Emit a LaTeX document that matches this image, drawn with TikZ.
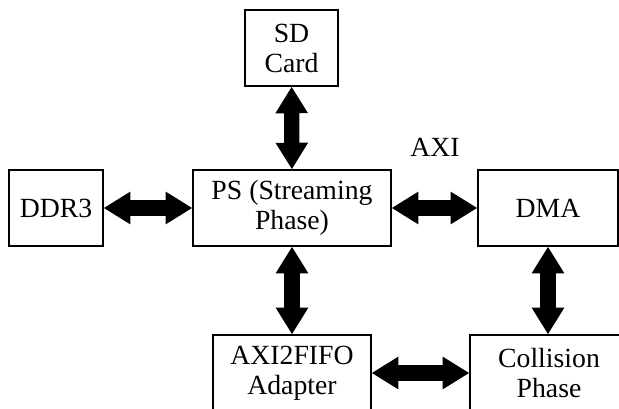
\documentclass[tikz,border=0pt]{standalone}
\usepackage{fontspec}
\setmainfont{Liberation Serif}
\usetikzlibrary{arrows.meta}

\tikzset{
  blk/.style={draw, line width=0.9pt, inner sep=0pt, align=center,
    minimum height=57pt, font=\fontsize{20.8}{22.5}\selectfont},
  biarrow/.style={line width=11.5pt,
    {Triangle[length=20pt,width=23pt]}-{Triangle[length=20pt,width=23pt]}}
}

\begin{document}
\begin{tikzpicture}[x=0.75pt,y=-0.75pt]
   \useasboundingbox (0,0) rectangle (619,409);
   \clip (0,0) rectangle (619,409);
   % blocks
   \node[blk, minimum width=69.75pt] (sd)   at (291.5,48)  {SD\\Card};
   \node[blk, minimum width=148.5pt] (ps)   at (292,208)   {PS (Streaming\\Phase)};
   \node[blk, minimum width=70.5pt]  (ddr)  at (56,208)    {DDR3};
   \node[blk, minimum width=105pt]   (dma)  at (548,208)   {DMA};
   \node[blk, minimum width=118.5pt] (fifo) at (292,373)   {AXI2FIFO\\Adapter};
   \node[blk, minimum width=118.5pt] (coll) at (549,373)   {Collision\\Phase};
   \node[font=\fontsize{20.8}{22.5}\selectfont] (axi) at (435,147) {AXI};
   % links
   \draw[biarrow] (sd) -- (ps);
   \draw[biarrow] (ddr) -- (ps);
   \draw[biarrow] (ps) -- (dma);
   \draw[biarrow] (ps) -- (fifo);
   \draw[biarrow] (dma.south) -- (dma.south |- coll.north);
   \draw[biarrow] (fifo) -- (coll);
\end{tikzpicture}
\end{document}
